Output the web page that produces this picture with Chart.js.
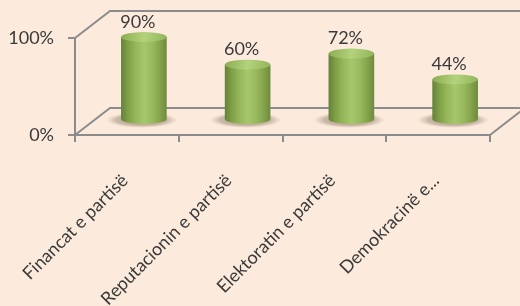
<!DOCTYPE html>
<html>
<head>
<meta charset="utf-8">
<script src="https://cdn.jsdelivr.net/npm/chart.js@4"></script>
<style>
  html, body { margin: 0; padding: 0; background: #fcebdc; }
  canvas { display: block; }
</style>
</head>
<body>
<canvas id="myChart" width="520" height="306"></canvas>
<script>
  // Data
  const categories = ['Financat e partisë', 'Reputacionin e partisë', 'Elektoratin e partisë', 'Demokracinë e...']
  const values = [90, 60, 72, 44]
  const yTicks = [0, 100]

  const lineColor = '#8c8c8c'
  const textColor = '#3a3a3a'
  const depth = { dx: 35, dy: -27 }   // back wall offset
  const mid = { dx: 17, dy: -15, k: 0.95 } // cylinders sit half way in

  // 3D frame behind the bars
  const frame3d = {
    id: 'frame3d',
    beforeDatasetsDraw(chart) {
      const { ctx, chartArea: a, scales: { y } } = chart
      const top = y.getPixelForValue(yTicks[1])
      const bot = y.getPixelForValue(yTicks[0])
      ctx.save()
      ctx.strokeStyle = lineColor
      ctx.lineWidth = 2
      ctx.beginPath()
      // left wall
      ctx.moveTo(a.left, top)
      ctx.lineTo(a.left + depth.dx, top + depth.dy)
      ctx.lineTo(a.right + depth.dx, top + depth.dy)
      ctx.moveTo(a.left, bot)
      ctx.lineTo(a.left + depth.dx, bot + depth.dy)
      ctx.lineTo(a.right + depth.dx, bot + depth.dy)
      // floor right edge
      ctx.moveTo(a.right, bot)
      ctx.lineTo(a.right + depth.dx, bot + depth.dy)
      ctx.stroke()
      ctx.restore()
    }
  }

  // cylinders + value labels
  const cylinders = {
    id: 'cylinders',
    afterDatasetsDraw(chart) {
      const { ctx } = chart
      const meta = chart.getDatasetMeta(0)
      ctx.save()
      meta.data.forEach((bar, i) => {
        const cx = bar.x + mid.dx
        const base = bar.base + mid.dy
        const top = base + (bar.y - bar.base) * mid.k
        const rx = bar.width / 2
        const ry = 5

        // shadow on the floor
        const sx = cx - 2
        const sh = ctx.createRadialGradient(sx, base + 1, 2, sx, base + 1, rx + 13)
        sh.addColorStop(0, 'rgba(100,80,60,0.6)')
        sh.addColorStop(0.7, 'rgba(130,110,90,0.4)')
        sh.addColorStop(1, 'rgba(160,140,120,0)')
        ctx.save()
        ctx.translate(sx, base + 1)
        ctx.scale(1, 0.22)
        ctx.translate(-sx, -(base + 1))
        ctx.fillStyle = sh
        ctx.beginPath()
        ctx.arc(sx, base + 1, rx + 13, 0, Math.PI * 2)
        ctx.fill()
        ctx.restore()

        // body
        const g = ctx.createLinearGradient(cx - rx, 0, cx + rx, 0)
        g.addColorStop(0, '#63823a')
        g.addColorStop(0.15, '#7f9f48')
        g.addColorStop(0.3, '#93b457')
        g.addColorStop(0.5, '#a7c76c')
        g.addColorStop(0.7, '#97b85c')
        g.addColorStop(0.88, '#819f49')
        g.addColorStop(1, '#6c8a3e')
        ctx.fillStyle = g
        ctx.beginPath()
        ctx.moveTo(cx - rx, top)
        ctx.lineTo(cx - rx, base)
        ctx.ellipse(cx, base, rx, ry, 0, Math.PI, 0, true)
        ctx.lineTo(cx + rx, top)
        ctx.closePath()
        ctx.fill()

        // top cap
        const t = ctx.createLinearGradient(cx - rx, top - ry, cx + rx, top + ry)
        t.addColorStop(0, '#8aac50')
        t.addColorStop(0.5, '#b3d27c')
        t.addColorStop(1, '#93b45a')
        ctx.fillStyle = t
        ctx.beginPath()
        ctx.ellipse(cx, top, rx, ry, 0, 0, Math.PI * 2)
        ctx.fill()

        // value label
        ctx.fillStyle = textColor
        ctx.font = '18px Lato'
        ctx.textAlign = 'center'
        ctx.textBaseline = 'bottom'
        ctx.fillText(values[i] + '%', cx - 6, top - ry - 1)
      })
      ctx.restore()
    }
  }

  const ctx = document.getElementById('myChart')
  // eslint-disable-next-line no-unused-vars
  const myChart = new Chart(ctx, {
    type: 'bar',
    data: {
      labels: categories,
      datasets: [{
        data: values,
        backgroundColor: 'rgba(0,0,0,0)',
        barPercentage: 0.44,
        categoryPercentage: 1
      }]
    },
    options: {
      responsive: false,
      animation: false,
      layout: { padding: { top: 38, right: 30, left: 0, bottom: 0 } },
      plugins: {
        legend: { display: false },
        tooltip: { enabled: false }
      },
      scales: {
        x: {
          grid: {
            offset: true,
            drawOnChartArea: false,
            color: lineColor,
            lineWidth: 2,
            tickLength: 7
          },
          border: { color: lineColor, width: 2 },
          ticks: {
            color: textColor,
            font: { family: 'Lato', size: 18 },
            minRotation: 45,
            maxRotation: 45,
            autoSkip: false,
            padding: 28,
            labelOffset: -2
          },
          afterFit(scale) {
            scale.height = 171
            scale.paddingLeft = 0
            scale.paddingRight = 0
          }
        },
        y: {
          min: yTicks[0],
          max: yTicks[1],
          grid: {
            drawOnChartArea: false,
            color: lineColor,
            lineWidth: 2,
            tickLength: 7
          },
          border: { color: lineColor, width: 2 },
          ticks: {
            stepSize: 100,
            color: textColor,
            font: { family: 'Lato', size: 18 },
            padding: 14,
            callback: v => v + '%'
          },
          afterFit(scale) { scale.width = 75 }
        }
      }
    },
    plugins: [frame3d, cylinders]
  })
</script>
</body>
</html>
